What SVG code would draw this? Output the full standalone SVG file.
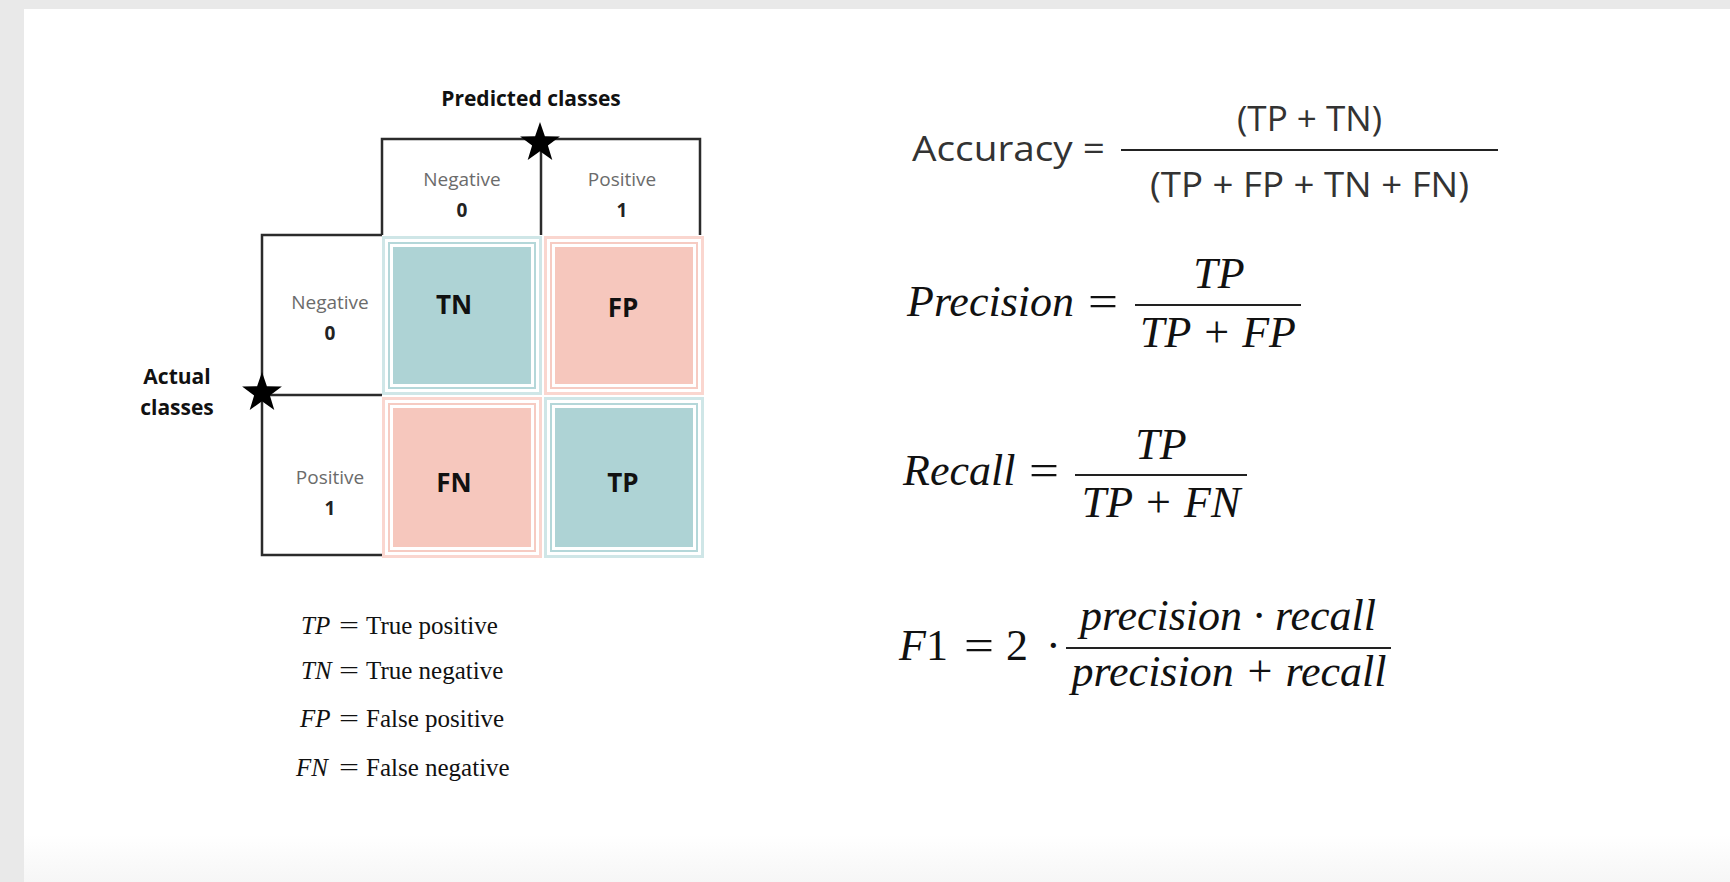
<svg xmlns="http://www.w3.org/2000/svg" width="1730" height="882" viewBox="0 0 1730 882">
<defs>
<style>
.hdr{font-family:"Open Sans","Noto Sans",sans-serif;font-size:19px;fill:#6b6b6b;text-anchor:middle}
.num{font-family:"Open Sans","Noto Sans",sans-serif;font-size:19px;font-weight:700;fill:#222;text-anchor:middle}
.ttl{font-family:"Open Sans","Noto Sans",sans-serif;font-size:21px;font-weight:700;fill:#111;text-anchor:middle}
.cell{font-family:"Open Sans","Noto Sans",sans-serif;font-size:26px;font-weight:700;fill:#111;text-anchor:middle}
.frame{fill:none;stroke:#2b2b2b;stroke-width:2.5}
.acc{font-family:"Open Sans","Noto Sans",sans-serif;font-size:35px;fill:#333}
.mi{font-family:"Liberation Serif","Times New Roman",serif;font-style:italic;font-size:44px;fill:#111}
.mr{font-family:"Liberation Serif","Times New Roman",serif;font-size:44px;fill:#111}
.li{font-family:"Liberation Serif","Times New Roman",serif;font-style:italic;font-size:25px;fill:#111}
.lr{font-family:"Liberation Serif","Times New Roman",serif;font-size:25px;fill:#111}
.bar{stroke:#222;stroke-width:2}
.tealO{fill:#fff;stroke:#cfe6e7;stroke-width:3}
.tealI{fill:none;stroke:#b4d7d9;stroke-width:2}
.tealF{fill:#aed3d5}
.pinkO{fill:#fff;stroke:#fad6cf;stroke-width:3}
.pinkI{fill:none;stroke:#f6cbc2;stroke-width:2}
.pinkF{fill:#f6c7bd}
</style>
<linearGradient id="bot" x1="0" y1="0" x2="0" y2="1">
<stop offset="0" stop-color="#ffffff"/>
<stop offset="1" stop-color="#f6f6f6"/>
</linearGradient>
<polygon id="star" points="0,-21 4.9,-6.7 19.9,-6.5 7.9,2.6 12.3,17 0,8.3 -12.3,17 -7.9,2.6 -19.9,-6.5 -4.9,-6.7" fill="#000"/>
</defs>
<rect x="0" y="0" width="1730" height="882" fill="#e9e9e9"/>
<rect x="24" y="9" width="1706" height="873" fill="#ffffff"/>
<rect x="24" y="835" width="1706" height="47" fill="url(#bot)"/>

<g id="cell-tn">
<rect class="tealO" x="383.5" y="237.5" width="157" height="156"/>
<rect class="tealI" x="389" y="243" width="146" height="145"/>
<rect class="tealF" x="393" y="247" width="138" height="137"/>
<text class="cell" x="454" y="314">TN</text>
</g>
<g id="cell-fp">
<rect class="pinkO" x="545.5" y="237.5" width="157" height="156"/>
<rect class="pinkI" x="551" y="243" width="146" height="145"/>
<rect class="pinkF" x="555" y="247" width="138" height="137"/>
<text class="cell" x="623" y="317">FP</text>
</g>
<g id="cell-fn">
<rect class="pinkO" x="383.5" y="398.5" width="157" height="158"/>
<rect class="pinkI" x="389" y="404" width="146" height="147"/>
<rect class="pinkF" x="393" y="408" width="138" height="139"/>
<text class="cell" x="454" y="492">FN</text>
</g>
<g id="cell-tp">
<rect class="tealO" x="545.5" y="398.5" width="157" height="158"/>
<rect class="tealI" x="551" y="404" width="146" height="147"/>
<rect class="tealF" x="555" y="408" width="138" height="139"/>
<text class="cell" x="623" y="492">TP</text>
</g>

<g id="connectors">
<path class="frame" d="M382,235 V139 H700 V235"/>
<path class="frame" d="M541,139 V235"/>
<path class="frame" d="M382,235 H262 V555 H382"/>
<path class="frame" d="M262,395 H382"/>
</g>

<g id="predicted-header">
<text class="ttl" x="531" y="106">Predicted classes</text>
<use href="#star" x="540" y="143"/>
<text class="hdr" x="462" y="186">Negative</text>
<text class="num" x="462" y="217">0</text>
<text class="hdr" x="622" y="186">Positive</text>
<text class="num" x="622" y="217">1</text>
</g>

<g id="actual-header">
<text class="ttl" x="177" y="384">Actual</text>
<text class="ttl" x="177" y="415">classes</text>
<use href="#star" x="262" y="393"/>
<text class="hdr" x="330" y="309">Negative</text>
<text class="num" x="330" y="340">0</text>
<text class="hdr" x="330" y="484">Positive</text>
<text class="num" x="330" y="515">1</text>
</g>

<g id="legend">
<text class="li" x="301" y="634">TP</text><text class="lr" x="339" y="634" textLength="20" lengthAdjust="spacingAndGlyphs">=</text><text class="lr" x="366" y="634">True positive</text>
<text class="li" x="301" y="679">TN</text><text class="lr" x="339" y="679" textLength="20" lengthAdjust="spacingAndGlyphs">=</text><text class="lr" x="366" y="679">True negative</text>
<text class="li" x="300" y="727">FP</text><text class="lr" x="339" y="727" textLength="20" lengthAdjust="spacingAndGlyphs">=</text><text class="lr" x="366" y="727">False positive</text>
<text class="li" x="296" y="776">FN</text><text class="lr" x="339" y="776" textLength="20" lengthAdjust="spacingAndGlyphs">=</text><text class="lr" x="366" y="776">False negative</text>
</g>

<g id="accuracy">
<text class="acc" x="912" y="161" textLength="193" lengthAdjust="spacingAndGlyphs">Accuracy =</text>
<line class="bar" x1="1121" y1="150" x2="1498" y2="150" stroke-width="2.5" stroke="#444"/>
<text class="acc" x="1237" y="131" textLength="145" lengthAdjust="spacingAndGlyphs">(TP + TN)</text>
<text class="acc" x="1150" y="197" textLength="319" lengthAdjust="spacingAndGlyphs">(TP + FP + TN + FN)</text>
</g>

<g id="precision">
<text class="mi" x="907" y="316">Precision</text>
<text class="mr" x="1088" y="316" textLength="30" lengthAdjust="spacingAndGlyphs">=</text>
<line class="bar" x1="1135" y1="305" x2="1301" y2="305"/>
<text class="mi" x="1219" y="288" text-anchor="middle">TP</text>
<text class="mi" x="1218" y="347" text-anchor="middle">TP + FP</text>
</g>

<g id="recall">
<text class="mi" x="903" y="485">Recall</text>
<text class="mr" x="1029" y="485" textLength="30" lengthAdjust="spacingAndGlyphs">=</text>
<line class="bar" x1="1075" y1="475" x2="1247" y2="475"/>
<text class="mi" x="1161" y="459" text-anchor="middle">TP</text>
<text class="mi" x="1161" y="517" text-anchor="middle">TP + FN</text>
</g>

<g id="f1">
<text class="mi" x="899" y="660">F<tspan font-style="normal">1</tspan></text>
<text class="mr" x="964" y="660" textLength="30" lengthAdjust="spacingAndGlyphs">=</text>
<text class="mr" x="1006" y="660">2</text>
<text class="mr" x="1046" y="660">·</text>
<line class="bar" x1="1066" y1="648" x2="1391" y2="648"/>
<text class="mi" x="1228" y="630" text-anchor="middle">precision · recall</text>
<text class="mi" x="1229" y="686" text-anchor="middle">precision + recall</text>
</g>
</svg>
